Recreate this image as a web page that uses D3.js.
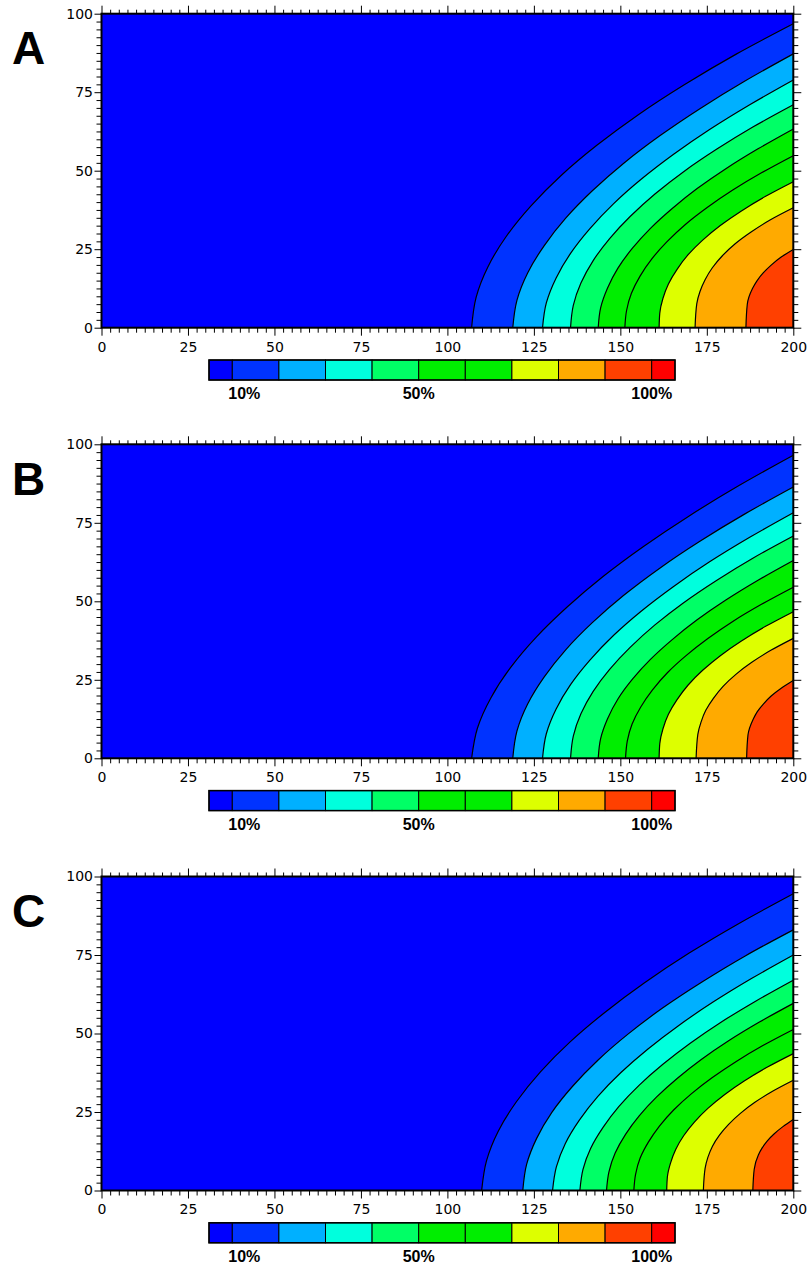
<!DOCTYPE html>
<html><head><meta charset="utf-8">
<script src="https://cdn.jsdelivr.net/npm/d3@7"></script>
<style>html,body{margin:0;background:#fff}</style>
</head><body>
<svg id="fig" width="808" height="1266"></svg>
<script>
// Axis ticks and contour levels (percent)
const xTicks = [0, 25, 50, 75, 100, 125, 150, 175, 200];
const yTicks = [0, 25, 50, 75, 100];
const levels = [10, 20, 30, 40, 50, 60, 70, 80, 90, 100];
const legendLabels = [10, 50, 100];
const bandColors = ["#0000ff", "#0033ff", "#00b0ff", "#00ffdd", "#00ff66", "#00ee00",
                    "#00ee00", "#ddff00", "#ffaa00", "#ff4000", "#ff0000"];
const panelLetters = ["A", "B", "C"];

// Iso-lines for levels 10%..90%, each as [x, y] points from the bottom edge to the right edge
const contoursA = [
  [[107.0,0],[108.3,9.68],[111.7,19.36],[117.0,29.04],[124.1,38.72],[132.8,48.4],[143.2,58.08],[155.1,67.76],[168.6,77.44],[183.5,87.12],[200,96.8]],
  [[118.9,0],[120.1,8.72],[123.2,17.44],[128.0,26.16],[134.2,34.88],[141.9,43.6],[150.9,52.32],[161.3,61.04],[173.0,69.76],[185.9,78.48],[200,87.2]],
  [[127.5,0],[128.6,7.89],[131.4,15.78],[135.6,23.67],[141.2,31.56],[148.0,39.45],[156.1,47.34],[165.4,55.23],[175.8,63.12],[187.4,71.01],[200,78.9]],
  [[135.6,0],[136.4,7.1],[138.6,14.2],[142.1,21.3],[146.9,28.4],[152.9,35.5],[160.0,42.6],[168.3,49.7],[177.8,56.8],[188.3,63.9],[200,71.0]],
  [[143.6,0],[144.3,6.33],[146.3,12.66],[149.3,18.99],[153.5,25.32],[158.7,31.65],[165.0,37.98],[172.2,44.31],[180.5,50.64],[189.8,56.97],[200,63.3]],
  [[151.3,0],[151.8,5.48],[153.2,10.96],[155.7,16.44],[159.1,21.92],[163.5,27.4],[168.8,32.88],[175.2,38.36],[182.5,43.84],[190.8,49.32],[200,54.8]],
  [[161.2,0],[161.4,4.65],[162.3,9.3],[163.9,13.95],[166.4,18.6],[169.6,23.25],[173.8,27.9],[178.9,32.55],[185.0,37.2],[192.0,41.85],[200,46.5]],
  [[171.6,0],[172.1,7.64],[173.0,11.46],[174.5,15.28],[176.6,19.1],[179.5,22.92],[183.2,26.74],[187.9,30.56],[193.4,34.38],[200,38.2]],
  [[186.3,0],[186.7,7.47],[188.2,12.45],[189.5,14.94],[191.3,17.43],[193.6,19.92],[196.4,22.41],[200,24.9]]
];
const contoursB = [
  [[107.0,0],[108.7,9.65],[112.6,19.3],[118.3,28.95],[125.7,38.6],[134.7,48.25],[145.0,57.9],[156.8,67.55],[169.9,77.2],[184.3,86.85],[200,96.5]],
  [[118.9,0],[120.1,8.64],[123.2,17.28],[128.0,25.92],[134.2,34.56],[141.9,43.2],[150.9,51.84],[161.3,60.48],[173.0,69.12],[185.9,77.76],[200,86.4]],
  [[127.5,0],[128.6,7.82],[131.4,15.64],[135.6,23.46],[141.2,31.28],[148.0,39.1],[156.1,46.92],[165.4,54.74],[175.8,62.56],[187.4,70.38],[200,78.2]],
  [[135.6,0],[136.4,7.08],[138.6,14.16],[142.1,21.24],[146.9,28.32],[152.9,35.4],[160.0,42.48],[168.3,49.56],[177.8,56.64],[188.3,63.72],[200,70.8]],
  [[143.6,0],[144.3,6.3],[146.3,12.6],[149.3,18.9],[153.5,25.2],[158.7,31.5],[165.0,37.8],[172.2,44.1],[180.5,50.4],[189.8,56.7],[200,63.0]],
  [[151.5,0],[152.0,5.45],[153.4,10.9],[155.9,16.35],[159.3,21.8],[163.6,27.25],[169.0,32.7],[175.3,38.15],[182.5,43.6],[190.8,49.05],[200,54.5]],
  [[161.2,0],[161.4,4.67],[162.3,9.34],[163.9,14.01],[166.4,18.68],[169.6,23.35],[173.8,28.02],[178.9,32.69],[185.0,37.36],[192.0,42.03],[200,46.7]],
  [[171.9,0],[172.4,7.64],[173.3,11.46],[174.7,15.28],[176.9,19.1],[179.7,22.92],[183.4,26.74],[188.0,30.56],[193.5,34.38],[200,38.2]],
  [[186.5,0],[186.9,7.44],[188.4,12.4],[189.6,14.88],[191.4,17.36],[193.6,19.84],[196.5,22.32],[200,24.8]]
];
const contoursC = [
  [[109.9,0],[111.3,9.45],[114.7,18.9],[120.0,28.35],[126.9,37.8],[135.4,47.25],[145.5,56.7],[157.0,66.15],[169.9,75.6],[184.3,85.05],[200,94.5]],
  [[121.8,0],[122.9,8.3],[125.8,16.6],[130.2,24.9],[136.2,33.2],[143.5,41.5],[152.2,49.8],[162.2,58.1],[173.6,66.4],[186.1,74.7],[200,83.0]],
  [[130.4,0],[131.5,7.5],[134.1,15.0],[138.2,22.5],[143.5,30.0],[150.1,37.5],[157.9,45.0],[166.8,52.5],[176.8,60.0],[187.9,67.5],[200,75.0]],
  [[138.3,0],[139.2,6.7],[141.4,13.4],[145.0,20.1],[149.6,26.8],[155.4,33.5],[162.3,40.2],[170.2,46.9],[179.1,53.6],[189.1,60.3],[200,67.0]],
  [[146.0,0],[146.7,5.96],[148.5,11.92],[151.5,17.88],[155.5,23.84],[160.5,29.8],[166.5,35.76],[173.4,41.72],[181.3,47.68],[190.2,53.64],[200,59.6]],
  [[153.9,0],[154.4,5.13],[155.7,10.26],[158.1,15.39],[161.3,20.52],[165.4,25.65],[170.5,30.78],[176.5,35.91],[183.4,41.04],[191.2,46.17],[200,51.3]],
  [[163.4,0],[163.6,4.36],[164.5,8.72],[166.0,13.08],[168.3,17.44],[171.4,21.8],[175.3,26.16],[180.1,30.52],[185.8,34.88],[192.4,39.24],[200,43.6]],
  [[174.0,0],[174.5,7.02],[175.3,10.53],[176.6,14.04],[178.6,17.55],[181.3,21.06],[184.7,24.57],[188.9,28.08],[194.0,31.59],[200,35.1]],
  [[188.3,0],[188.7,6.78],[189.9,11.3],[191.0,13.56],[192.5,15.82],[194.5,18.08],[197.0,20.34],[200,22.6]]
];
const panelContours = [contoursA, contoursB, contoursC];

// Layout
const plotLeft = 101.5, plotRight = 793.3, plotH = 314;
const panelTops = [13.7, 444.3, 876.5];
const legendLeft = 209, legendRight = 675, legendGap = 32.3, legendH = 20;

const svg = d3.select("#fig");
const x = d3.scaleLinear().domain([0, 200]).range([plotLeft, plotRight]);
const lx = d3.scaleLinear().domain([5, 105]).range([legendLeft, legendRight]);
const xMinor = d3.range(0, 200.01, 2.5).filter(v => v % 25 !== 0);
const yMinor = d3.range(0, 100.01, 2.5).filter(v => v % 25 !== 0);

panelContours.forEach((contours, i) => {
  const top = panelTops[i];
  const y = d3.scaleLinear().domain([0, 100]).range([top + plotH, top]);
  const g = svg.append("g");

  g.append("clipPath").attr("id", "clip" + i)
    .append("rect").attr("x", x(0)).attr("y", y(100))
    .attr("width", x(200) - x(0)).attr("height", y(0) - y(100));

  const area = g.append("g").attr("clip-path", `url(#clip${i})`);
  area.append("rect").attr("x", x(0)).attr("y", y(100))
    .attr("width", x(200) - x(0)).attr("height", y(0) - y(100))
    .attr("fill", bandColors[0]);

  // each iso-line runs from the right edge down to the bottom edge (y increasing on screen)
  const line = d3.line().x(d => x(d[0])).y(d => y(d[1])).curve(d3.curveMonotoneY);
  const path = c => line(c.slice().reverse());
  contours.forEach((c, k) => {
    area.append("path")
      .attr("d", path(c) + `L${x(200)},${y(0)}Z`)
      .attr("fill", bandColors[k + 1]);
  });
  contours.forEach(c => {
    area.append("path").attr("d", path(c))
      .attr("fill", "none").attr("stroke", "#000").attr("stroke-width", 1.2);
  });

  // Axes: labelled majors on left/bottom, bare ticks on top/right
  const addAxis = (gen, tr, vals, size, labelled, pad) => {
    const a = g.append("g").attr("transform", tr)
      .call(gen.tickValues(vals).tickSize(size).tickPadding(pad)
        .tickFormat(labelled ? d3.format("d") : ""));
    a.select(".domain").remove();
    a.selectAll("line").attr("stroke", "#000").attr("stroke-width", 1);
    a.attr("font-family", "DejaVu Sans").attr("font-size", 14);
    a.selectAll("text").attr("fill", "#000");
    return a;
  };
  addAxis(d3.axisLeft(y), `translate(${x(0)},0)`, yTicks, 7, true, 1.5);
  addAxis(d3.axisLeft(y), `translate(${x(0)},0)`, yMinor, 5, false, 0);
  addAxis(d3.axisRight(y), `translate(${x(200)},0)`, yTicks, 8, false, 0);
  addAxis(d3.axisRight(y), `translate(${x(200)},0)`, yMinor, 5, false, 0);
  addAxis(d3.axisBottom(x), `translate(0,${y(0)})`, xTicks, 8, true, 6);
  addAxis(d3.axisBottom(x), `translate(0,${y(0)})`, xMinor, 5, false, 0);
  addAxis(d3.axisTop(x), `translate(0,${y(100)})`, xTicks, 8, false, 0);
  addAxis(d3.axisTop(x), `translate(0,${y(100)})`, xMinor, 4, false, 0);

  g.append("rect").attr("x", x(0)).attr("y", y(100))
    .attr("width", x(200) - x(0)).attr("height", y(0) - y(100))
    .attr("fill", "none").attr("stroke", "#000").attr("stroke-width", 2);

  // Panel letter
  g.append("text").attr("x", 12).attr("y", top + 50.3)
    .attr("font-family", "Liberation Sans, Arial, sans-serif")
    .attr("font-weight", "bold").attr("font-size", 46).text(panelLetters[i]);

  // Colour legend
  const ly = top + plotH + legendGap;
  const bounds = [5, ...levels, 105];
  const lg = g.append("g");
  bandColors.forEach((col, k) => {
    lg.append("rect").attr("x", lx(bounds[k])).attr("y", ly)
      .attr("width", lx(bounds[k + 1]) - lx(bounds[k])).attr("height", legendH)
      .attr("fill", col).attr("stroke", "#000").attr("stroke-width", 1);
  });
  lg.append("rect").attr("x", lx(5)).attr("y", ly)
    .attr("width", lx(105) - lx(5)).attr("height", legendH)
    .attr("fill", "none").attr("stroke", "#000").attr("stroke-width", 1.5);
  legendLabels.forEach((v, k) => {
    lg.append("text").attr("x", lx(v) + (k === 0 ? 12 : 0)).attr("y", ly + legendH + 19.3)
      .attr("text-anchor", "middle")
      .attr("font-family", "Liberation Sans, Arial, sans-serif")
      .attr("font-weight", "bold").attr("font-size", 16).text(v + "%");
  });
});
</script>
</body></html>
